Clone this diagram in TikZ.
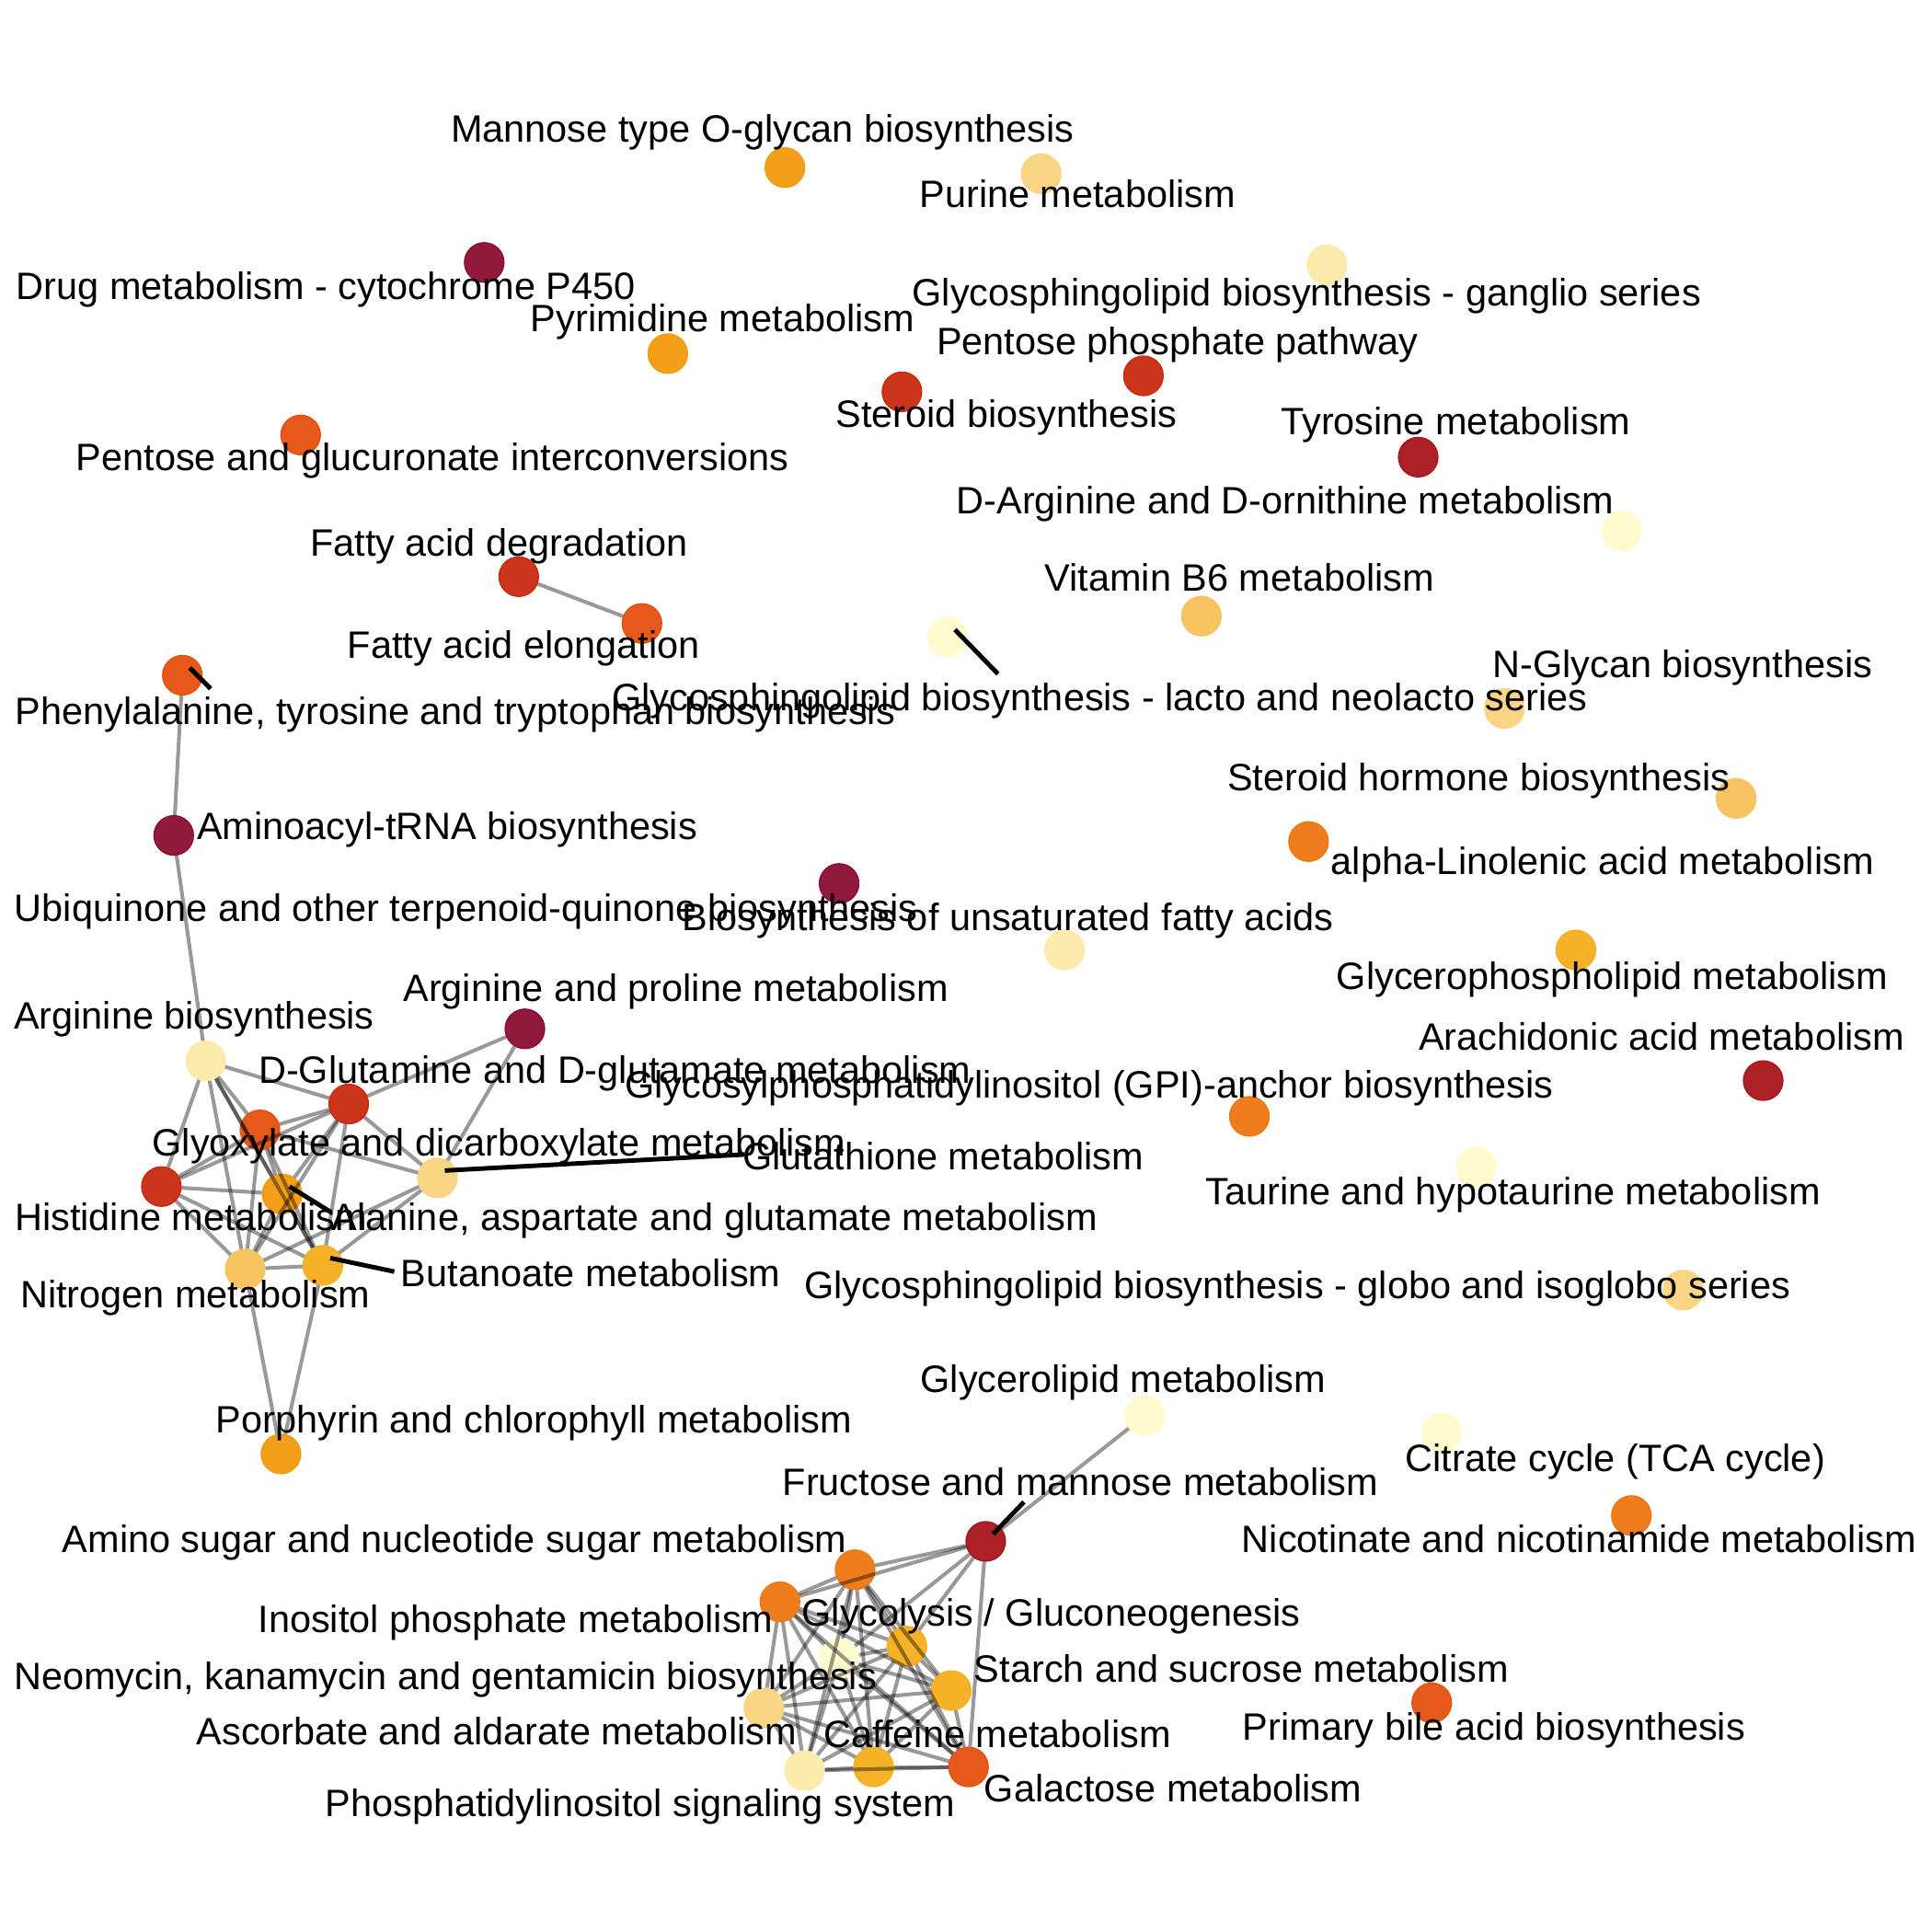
\documentclass[tikz,border=0pt]{standalone}
\usepackage{fontspec}
\setmainfont{Liberation Sans}

% node colours (pale yellow -> maroon)
\definecolor{yl1}{HTML}{FFFBCC}
\definecolor{yl2}{HTML}{FDEAAA}
\definecolor{yl3}{HTML}{FAD37E}
\definecolor{or1}{HTML}{F8C15A}
\definecolor{or2}{HTML}{F6AE1C}
\definecolor{or3}{HTML}{F39A0E}
\definecolor{or4}{HTML}{EE7612}
\definecolor{rd1}{HTML}{E5500F}
\definecolor{rd2}{HTML}{C82A0F}
\definecolor{rd3}{HTML}{A8141B}
\definecolor{mr1}{HTML}{8B0D31}

\tikzset{
  pw/.style={circle, fill=#1, draw=#1, fill opacity=0.95, minimum size=0.4286cm,
    inner sep=0pt, line width=0.4pt},
  lbl/.style={anchor=base, inner sep=0pt, yshift=-0.027cm,
    font=\fontsize{11.8}{14}\selectfont},
  edge/.style={draw=black, draw opacity=0.4, line width=1.15pt},
  leader/.style={draw=black, line width=1.4pt},
}

\begin{document}
\begin{tikzpicture}[x=0.013393cm, y=-0.013393cm]
  \useasboundingbox (0,0) rectangle (1568,1568);

  % ────────────────────────────────────────────────────────────────────
  % Pathway nodes
  % ────────────────────────────────────────────────────────────────────
  \node[pw=or3] (mannose)     at (637,136)  {};
  \node[pw=yl3] (purine)      at (845,141)  {};
  \node[pw=mr1] (drug)        at (393,213)  {};
  \node[pw=yl2] (ganglio)     at (1077,215) {};
  \node[pw=or3] (pyrimidine)  at (542,287)  {};
  \node[pw=rd2] (pentoseP)    at (928,305)  {};
  \node[pw=rd2] (steroid)     at (732,318)  {};
  \node[pw=rd1] (pentoseG)    at (244,353)  {};
  \node[pw=rd3] (tyrosine)    at (1151,371) {};
  \node[pw=yl1] (darg)        at (1316,431) {};
  \node[pw=rd2] (fadeg)       at (421,468)  {};
  \node[pw=rd1] (faelong)     at (521,506)  {};
  \node[pw=or1] (vitb)        at (975,500)  {};
  \node[pw=yl1] (lacto)       at (769,517)  {};
  \node[pw=rd1] (phe)         at (148,548)  {};
  \node[pw=yl3] (nglycan)     at (1221,575) {};
  \node[pw=or1] (sthormone)   at (1409,648) {};
  \node[pw=or4] (linolenic)   at (1062,683) {};
  \node[pw=mr1] (aminoacyl)   at (141,678)  {};
  \node[pw=mr1] (ubiquinone)  at (681,717)  {};
  \node[pw=yl2] (unsat)       at (864,771)  {};
  \node[pw=or2] (glycerophos) at (1279,771) {};
  \node[pw=mr1] (argpro)      at (426,835)  {};
  \node[pw=yl2] (argbio)      at (167,861)  {};
  \node[pw=rd3] (arachidonic) at (1431,877) {};
  \node[pw=rd2] (dglut)       at (283,896)  {};
  \node[pw=or4] (gpi)         at (1014,906) {};
  \node[pw=rd1] (glyox)       at (211,917)  {};
  \node[pw=yl3] (glutath)     at (355,956)  {};
  \node[pw=yl1] (taurine)     at (1198,947) {};
  \node[pw=rd2] (histidine)   at (131,963)  {};
  \node[pw=or3] (alanine)     at (229,969)  {};
  \node[pw=or1] (nitrogen)    at (199,1030) {};
  \node[pw=or2] (butanoate)   at (262,1027) {};
  \node[pw=yl3] (globo)       at (1366,1047) {};
  \node[pw=yl1] (glycerolip)  at (929,1149) {};
  \node[pw=yl1] (citrate)     at (1170,1163) {};
  \node[pw=or3] (porphyrin)   at (228,1180) {};
  \node[pw=rd3] (fructose)    at (800,1251) {};
  \node[pw=or4] (nicotinate)  at (1324,1230) {};
  \node[pw=or4] (amsug)       at (694,1274) {};
  \node[pw=or4] (inositol)    at (633,1300) {};
  \node[pw=or2] (glycolysis)  at (736,1336) {};
  \node[pw=yl1] (neomycin)    at (681,1346) {};
  \node[pw=or2] (starch)      at (772,1372) {};
  \node[pw=yl3] (ascorbate)   at (620,1386) {};
  \node[pw=rd1] (bile)        at (1162,1382) {};
  \node[pw=or2] (caffeine)    at (709,1434) {};
  \node[pw=yl2] (phosphat)    at (653,1437) {};
  \node[pw=rd1] (galactose)   at (786,1434) {};

  % ────────────────────────────────────────────────────────────────────
  % Edges
  % ────────────────────────────────────────────────────────────────────
  \draw[edge] (fadeg) -- (faelong);
  \draw[edge] (phe) -- (aminoacyl);
  \draw[edge] (aminoacyl) -- (argbio);

  % amino acid cluster
  \foreach \a/\b in {argbio/dglut, argbio/glyox, argbio/histidine, argbio/nitrogen,
      argbio/alanine, argbio/butanoate, dglut/argpro, dglut/glyox, dglut/histidine,
      dglut/alanine, dglut/nitrogen, dglut/butanoate, dglut/glutath, glyox/glutath,
      glyox/histidine, glyox/alanine, glyox/nitrogen, glyox/butanoate,
      histidine/alanine, histidine/nitrogen, histidine/butanoate, alanine/nitrogen,
      alanine/butanoate, glutath/nitrogen, glutath/butanoate, glutath/argpro,
      nitrogen/butanoate, nitrogen/porphyrin, butanoate/porphyrin}
    \draw[edge] (\a) -- (\b);

  % sugar cluster
  \draw[edge] (glycerolip) -- (fructose);
  \foreach \b in {amsug, inositol, glycolysis, neomycin, galactose}
    \draw[edge] (fructose) -- (\b);
  \foreach \a [count=\i] in {amsug,inositol,glycolysis,neomycin,starch,ascorbate,phosphat,caffeine,galactose}
    \foreach \b [count=\j] in {amsug,inositol,glycolysis,neomycin,starch,ascorbate,phosphat,caffeine,galactose}
      {\ifnum\j>\i \draw[edge] (\a) -- (\b); \fi}

  % label leaders
  \coordinate (lactoTip)   at (810,547);
  \coordinate (pheTip)     at (171,559);
  \coordinate (glutathTip) at (604,937);
  \coordinate (alanineTip) at (269,984);
  \coordinate (butanTip)   at (320,1032);
  \coordinate (fructTip)   at (831,1219);
  \draw[leader] ([shift={(6,-6)}]lacto.center)     -- (lactoTip);
  \draw[leader] ([shift={(6,-6)}]phe.center)       -- (pheTip);
  \draw[leader] ([shift={(6,-6)}]glutath.center)   -- (glutathTip);
  \draw[leader] ([shift={(6,-6)}]alanine.center)   -- (alanineTip);
  \draw[leader] ([shift={(6,-6)}]butanoate.center) -- (butanTip);
  \draw[leader] ([shift={(6,-6)}]fructose.center)  -- (fructTip);

  % ────────────────────────────────────────────────────────────────────
  % Labels
  % ────────────────────────────────────────────────────────────────────
  \node[lbl] (mannoseL)     at (619,113)    {Mannose type O-glycan biosynthesis};
  \node[lbl] (purineL)      at (874.5,166)  {Purine metabolism};
  \node[lbl] (drugL)        at (264.5,241)  {Drug metabolism - cytochrome P450};
  \node[lbl] (gangliolL)    at (1060.5,246) {Glycosphingolipid biosynthesis - ganglio series};
  \node[lbl] (pyrimidineL)  at (586.5,267)  {Pyrimidine metabolism};
  \node[lbl] (pentosePL)    at (955.5,286)  {Pentose phosphate pathway};
  \node[lbl] (steroidL)     at (817,345)    {Steroid biosynthesis};
  \node[lbl] (pentoseGL)    at (351,380)    {Pentose and glucuronate interconversions};
  \node[lbl] (tyrosineL)    at (1181.5,351) {Tyrosine metabolism};
  \node[lbl] (dargL)        at (1043,415)   {D-Arginine and D-ornithine metabolism};
  \node[lbl] (fadegL)       at (405,449)    {Fatty acid degradation};
  \node[lbl] (faelongL)     at (425,532)    {Fatty acid elongation};
  \node[lbl] (vitbL)        at (1006,478)   {Vitamin B6 metabolism};
  \node[lbl] (lactoL)       at (892.5,575)  {Glycosphingolipid biosynthesis - lacto and neolacto series};
  \node[lbl] (pheL)         at (369.5,586)  {Phenylalanine, tyrosine and tryptophan biosynthesis};
  \node[lbl] (nglycanL)     at (1365.5,548) {N-Glycan biosynthesis};
  \node[lbl] (sthormoneL)   at (1200,640)   {Steroid hormone biosynthesis};
  \node[lbl] (linolenicL)   at (1300.5,708) {alpha-Linolenic acid metabolism};
  \node[lbl] (aminoacylL)   at (363,679)    {Aminoacyl-tRNA biosynthesis};
  \node[lbl] (ubiquinoneL)  at (378.5,746)  {Ubiquinone and other terpenoid-quinone biosynthesis};
  \node[lbl] (unsatL)       at (818,753)    {Biosynthesis of unsaturated fatty acids};
  \node[lbl] (glycerophosL) at (1308.5,801) {Glycerophospholipid metabolism};
  \node[lbl] (argproL)      at (548.5,811)  {Arginine and proline metabolism};
  \node[lbl] (argbioL)      at (157.5,833)  {Arginine biosynthesis};
  \node[lbl] (arachidonicL) at (1348.5,850) {Arachidonic acid metabolism};
  \node[lbl] (dglutL)       at (499,877)    {D-Glutamine and D-glutamate metabolism};
  \node[lbl] (gpiL)         at (884,889)    {Glycosylphosphatidylinositol (GPI)-anchor biosynthesis};
  \node[lbl] (glyoxL)       at (405,936)    {Glyoxylate and dicarboxylate metabolism};
  \node[lbl] (glutathL)     at (765.5,947)  {Glutathione metabolism};
  \node[lbl] (taurineL)     at (1228,976)   {Taurine and hypotaurine metabolism};
  \node[lbl] (histidineL)   at (155,997)    {Histidine metabolism};
  \node[lbl] (alanineL)     at (580,997)    {Alanine, aspartate and glutamate metabolism};
  \node[lbl] (nitrogenL)    at (158.5,1059) {Nitrogen metabolism};
  \node[lbl] (butanoateL)   at (479.5,1042) {Butanoate metabolism};
  \node[lbl] (globoL)       at (1053,1052)  {Glycosphingolipid biosynthesis - globo and isoglobo series};
  \node[lbl] (glycerolipL)  at (911.5,1128) {Glycerolipid metabolism};
  \node[lbl] (citrateL)     at (1311,1192)  {Citrate cycle (TCA cycle)};
  \node[lbl] (porphyrinL)   at (433.5,1161) {Porphyrin and chlorophyll metabolism};
  \node[lbl] (fructoseL)    at (877,1212)   {Fructose and mannose metabolism};
  \node[lbl] (nicotinateL)  at (1281.5,1258) {Nicotinate and nicotinamide metabolism};
  \node[lbl] (amsugL)       at (369,1258)   {Amino sugar and nucleotide sugar metabolism};
  \node[lbl] (inositolL)    at (418.5,1323) {Inositol phosphate metabolism};
  \node[lbl] (glycolysisL)  at (853,1318)   {Glycolysis / Gluconeogenesis};
  \node[lbl] (neomycinL)    at (361.5,1369) {Neomycin, kanamycin and gentamicin biosynthesis};
  \node[lbl] (starchL)      at (1007.5,1363) {Starch and sucrose metabolism};
  \node[lbl] (ascorbateL)   at (403,1414)   {Ascorbate and aldarate metabolism};
  \node[lbl] (bileL)        at (1212.5,1410) {Primary bile acid biosynthesis};
  \node[lbl] (caffeineL)    at (809.5,1416) {Caffeine metabolism};
  \node[lbl] (phosphatL)    at (519.5,1472) {Phosphatidylinositol signaling system};
  \node[lbl] (galactoseL)   at (952,1460)   {Galactose metabolism};

\end{tikzpicture}
\end{document}
